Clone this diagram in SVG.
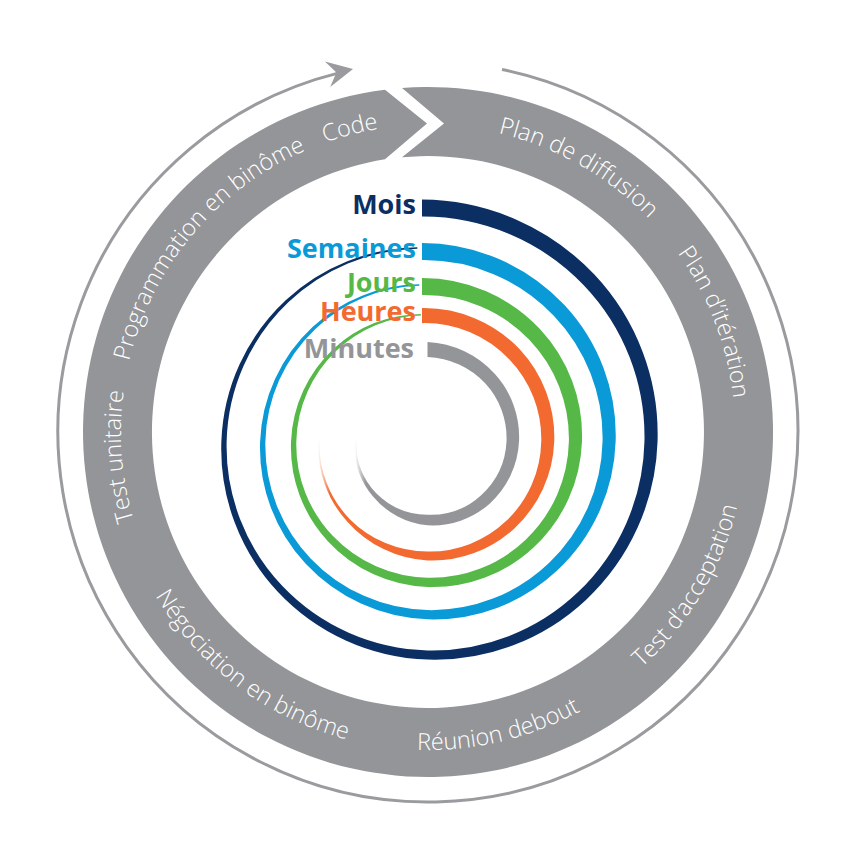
<svg xmlns="http://www.w3.org/2000/svg" xmlns:xlink="http://www.w3.org/1999/xlink" width="856" height="856" viewBox="0 0 856 856">
<style>
.ring{fill:#939598}
.rt{fill:#ffffff;font-family:"Open Sans","Liberation Sans",sans-serif;font-size:23.5px;font-weight:300}
.lbl{font-family:"Open Sans","Liberation Sans",sans-serif;font-size:27px;font-weight:700;text-anchor:end}
.cycle{fill:none;stroke:#9a9b9e;stroke-width:3}
</style>
<defs>
<path id="cw" d="M428,739 A307,307 0 1 1 428,125 A307,307 0 1 1 428,739"/>
<path id="ccw" d="M428,114 A318,318 0 1 0 428,750 A318,318 0 1 0 428,114"/>
<linearGradient id="fadeO" gradientUnits="userSpaceOnUse" x1="318" y1="0" x2="330" y2="0"><stop offset="0" stop-color="#f26a30" stop-opacity="0"/><stop offset="1" stop-color="#f26a30"/></linearGradient>
<linearGradient id="fadeG" gradientUnits="userSpaceOnUse" x1="355" y1="0" x2="366" y2="0"><stop offset="0" stop-color="#939598" stop-opacity="0"/><stop offset="1" stop-color="#939598"/></linearGradient>
</defs>
<rect width="856" height="856" fill="#ffffff"/>
<g id="connectors">
<path class="cycle" d="M502,69.5 A370,370 0 1 1 338,73.1"/>
<polygon points="353,69 324.9,61.55 336.4,72.45 330.2,87" fill="#9a9b9e"/>
</g>
<g id="ring">
<path class="ring" d="M402,87.98 A345,345 0 1 1 385,89.69 L427,123.5 L385,159.37 A276,276 0 1 0 402,157.23 L444,123.5 Z"/>
</g>
<g id="ring-labels" class="rt">
<text id="t-code"><textPath xlink:href="#cw" href="#cw" startOffset="887" text-anchor="middle">Code</textPath></text>
<text id="t-prog"><textPath xlink:href="#cw" href="#cw" startOffset="696" text-anchor="middle">Programmation en binôme</textPath></text>
<text id="t-unit"><textPath xlink:href="#cw" href="#cw" startOffset="458" text-anchor="middle">Test unitaire</textPath></text>
<text id="t-diff"><textPath xlink:href="#cw" href="#cw" startOffset="1123" text-anchor="middle">Plan de diffusion</textPath></text>
<text id="t-iter"><textPath xlink:href="#cw" href="#cw" startOffset="1334" text-anchor="middle">Plan d’itération</textPath></text>
<text id="t-nego"><textPath xlink:href="#ccw" href="#ccw" startOffset="794" text-anchor="middle">Négociation en binôme</textPath></text>
<text id="t-reun"><textPath xlink:href="#ccw" href="#ccw" startOffset="1073" text-anchor="middle">Réunion debout</textPath></text>
<text id="t-acc"><textPath xlink:href="#ccw" href="#ccw" startOffset="1328" text-anchor="middle">Test d’acceptation</textPath></text>
</g>
<g id="mois">
<path fill="#0b2f63" d="M422,199.6 A239,239 0 0 1 594.4,274.6 A233,233 0 0 1 657.55,441.5 A227.1,227.1 0 0 1 585.94,599.94 A221.1,221.1 0 0 1 427.5,659.6 A215.1,215.1 0 0 1 277.51,591.49 A209.1,209.1 0 0 1 221.36,441.5 A203.2,203.2 0 0 1 285.96,299.96 A197.4,197.4 0 0 1 417.32,247.19 L417.39,248.68 A195,195 0 0 0 288.32,302.32 A198.8,198.8 0 0 0 226.64,441.5 A202.9,202.9 0 0 0 282.63,586.37 A206.9,206.9 0 0 0 427.5,650.4 A210.9,210.9 0 0 0 578.06,592.06 A214.9,214.9 0 0 0 644.45,441.5 A219,219 0 0 0 583.75,285.25 A223,223 0 0 0 422,216.6 Z"/>
<text class="lbl" x="416" y="214" fill="#0b2f63">Mois</text>
</g>
<g id="semaines">
<path fill="#0a9ad7" d="M422,243.08 A195.9,195.9 0 0 1 564.2,304.8 A190.7,190.7 0 0 1 615.64,441.5 A185.5,185.5 0 0 1 556.86,570.86 A180.4,180.4 0 0 1 427.5,619.27 A175.2,175.2 0 0 1 305.47,563.53 A170,170 0 0 1 260.1,441.5 A164.8,164.8 0 0 1 312.79,326.79 A159.8,159.8 0 0 1 419.26,284.35 L419.34,285.84 A157.4,157.4 0 0 0 315.15,329.15 A160.5,160.5 0 0 0 265.38,441.5 A163.7,163.7 0 0 0 310.59,558.41 A167,167 0 0 0 427.5,610.08 A170.2,170.2 0 0 0 548.99,562.99 A173.4,173.4 0 0 0 602.54,441.5 A176.7,176.7 0 0 0 553.56,315.44 A179.9,179.9 0 0 0 422,260.08 Z"/>
<text class="lbl" x="416" y="258" fill="#0a9ad7">Semaines</text>
</g>
<g id="jours">
<path fill="#55b847" d="M422,278.09 A161.3,161.3 0 0 1 539.93,329.07 A156.7,156.7 0 0 1 581.99,441.5 A152.2,152.2 0 0 1 533.56,547.56 A147.7,147.7 0 0 1 427.5,586.99 A143.2,143.2 0 0 1 327.81,541.19 A138.7,138.7 0 0 1 291.03,441.5 A134.2,134.2 0 0 1 334.18,348.18 A129.9,129.9 0 0 1 420.81,313.91 L420.89,315.41 A127.5,127.5 0 0 0 336.54,350.54 A129.9,129.9 0 0 0 296.31,441.5 A132.5,132.5 0 0 0 332.93,536.07 A135,135 0 0 0 427.5,577.8 A137.6,137.6 0 0 0 525.68,539.68 A140.1,140.1 0 0 0 568.89,441.5 A142.7,142.7 0 0 0 529.29,339.71 A145.2,145.2 0 0 0 422,295.1 Z"/>
<text class="lbl" x="416" y="292" fill="#55b847">Jours</text>
</g>
<g id="heures">
<path fill="url(#fadeO)" d="M422,308.11 A131.9,131.9 0 0 1 519.69,349.31 A128.6,128.6 0 0 1 554.25,441.5 A124.8,124.8 0 0 1 514.38,528.38 A120.9,120.9 0 0 1 427.5,560.5 A116.2,116.2 0 0 1 347.34,521.66 A111.3,111.3 0 0 1 318.25,441.5 L319.25,441.5 A109.1,109.1 0 0 0 349.81,519.19 A109.9,109.9 0 0 0 427.5,551.5 A110.9,110.9 0 0 0 506.6,520.6 A112.8,112.8 0 0 0 541.25,441.5 A114.8,114.8 0 0 0 509.43,359.57 A117.2,117.2 0 0 0 422,323.13 Z"/>
<text class="lbl" x="416" y="321" fill="#f26a30">Heures</text>
</g>
<g id="minutes">
<path fill="url(#fadeG)" d="M427.5,342 A97.4,97.4 0 0 1 494.94,374.06 A93.4,93.4 0 0 1 519,441.5 A89.7,89.7 0 0 1 489.64,503.64 A85.8,85.8 0 0 1 427.5,525.25 A80.6,80.6 0 0 1 372.78,496.22 A74.8,74.8 0 0 1 355.25,441.5 L356.25,441.5 A72.1,72.1 0 0 0 375.97,493.03 A73.1,73.1 0 0 0 427.5,514.75 A74.6,74.6 0 0 0 481.15,495.15 A77.4,77.4 0 0 0 506.5,441.5 A80.4,80.4 0 0 0 485.4,383.6 A83.2,83.2 0 0 0 427.5,357 Z"/>
<text class="lbl" x="414" y="358" fill="#939598">Minutes</text>
</g>
</svg>
